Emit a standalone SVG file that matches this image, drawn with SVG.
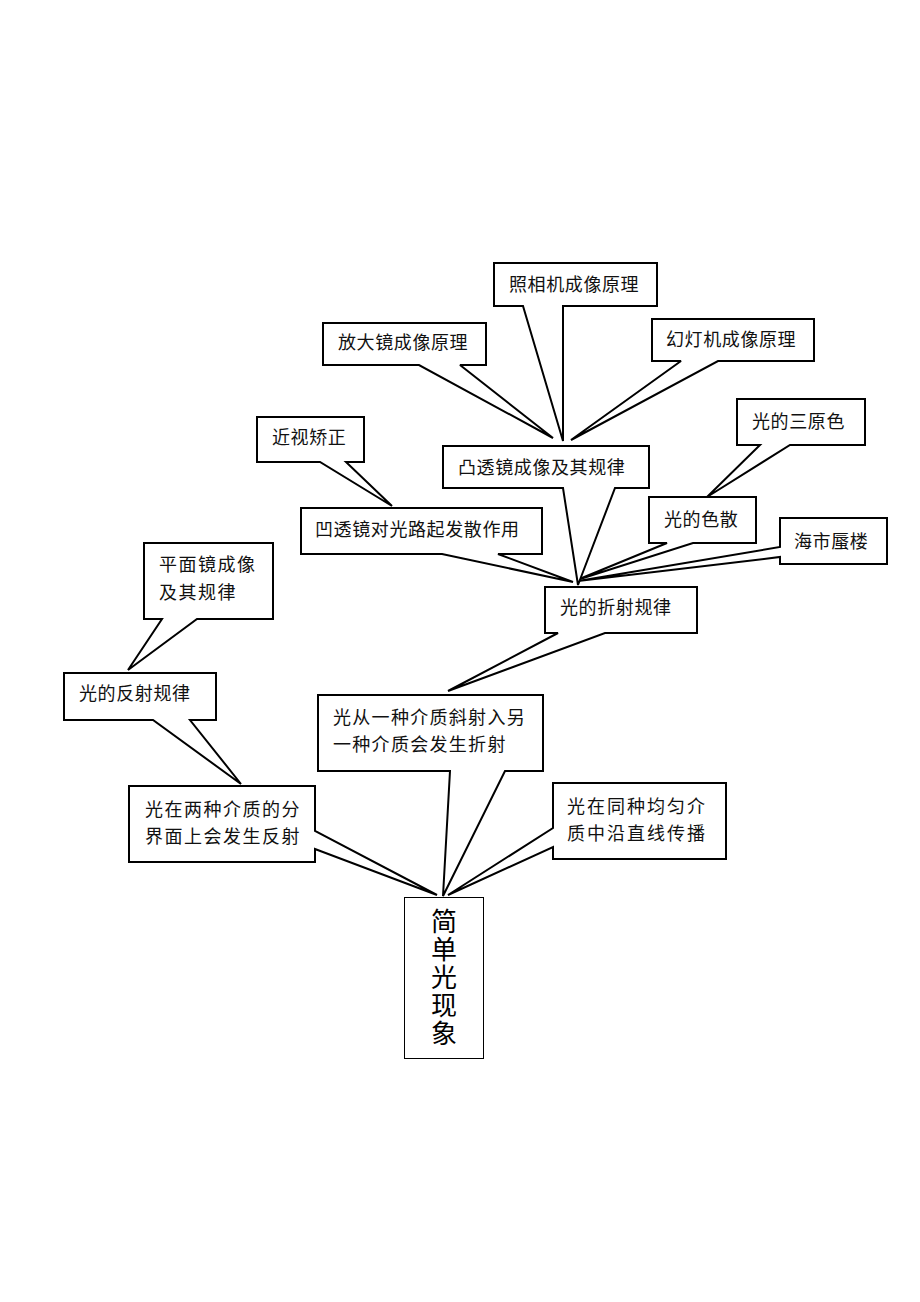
<svg xmlns="http://www.w3.org/2000/svg" width="920" height="1302" viewBox="0 0 920 1302">
<style>
.c{fill:#fff;stroke:#000;stroke-width:2;stroke-linejoin:miter;stroke-miterlimit:3}
.t{font-family:"Noto Sans CJK SC","Noto Sans",sans-serif;font-size:18px;fill:#111;letter-spacing:0.6px}
.w{letter-spacing:1.5px}
.ww{letter-spacing:2px}
.m{font-family:"Noto Sans CJK SC","Noto Sans",sans-serif;font-size:26px;fill:#000;writing-mode:vertical-rl;letter-spacing:2px}
</style>
<rect width="920" height="1302" fill="#fff"/>
<g id="connectors"></g>
<g id="n-zhaoxiang"><path class="c" d="M494 263 H657 V306 H563 L563 441 L523 306 H494 Z"/><text class="t" x="509" y="291">照相机成像原理</text></g>
<g id="n-fangdajing"><path class="c" d="M323 323 H486 V365 H460 L553 438 L419 365 H323 Z"/><text class="t" x="338" y="349">放大镜成像原理</text></g>
<g id="n-huandeng"><path class="c" d="M652 319 H814 V361 H718 L571 440 L681 361 H652 Z"/><text class="t" x="666" y="346">幻灯机成像原理</text></g>
<g id="n-sanyuanse"><path class="c" d="M737 399 H865 V445 H790 L707 497 L760 445 H737 Z"/><text class="t" x="752" y="428">光的三原色</text></g>
<g id="n-sesan"><path class="c" d="M649 497 H756 V543 H693 L577 580 L667 543 H649 Z"/><text class="t" x="664" y="526">光的色散</text></g>
<g id="n-haishi"><path class="c" d="M780 518 H887 V564 H780 V557 L578 581 L780 547 Z"/><text class="t" x="794" y="548">海市蜃楼</text></g>
<g id="n-jinshi"><path class="c" d="M257 417 H364 V462 H346 L392 506 L320 462 H257 Z"/><text class="t" x="272" y="444">近视矫正</text></g>
<g id="n-aotoujing"><path class="c" d="M301 508 H542 V554 H498 L573 582 L442 554 H301 Z"/><text class="t" x="315" y="536">凹透镜对光路起发散作用</text></g>
<g id="n-tutoujing"><path class="c" d="M443 446 H649 V488 H615 L578 585 L563 488 H443 Z"/><text class="t" x="458" y="474">凸透镜成像及其规律</text></g>
<g id="n-zheshe"><path class="c" d="M545 587 H697 V633 H605 L448 691 L558 633 H545 Z"/><text class="t" x="560" y="614">光的折射规律</text></g>
<g id="n-pingmian"><path class="c" d="M144 543 H273 V619 H197 L128 670 L162 619 H144 Z"/><text class="t w" x="159" y="571">平面镜成像</text><text class="t w" x="159" y="599">及其规律</text></g>
<g id="n-fanshe"><path class="c" d="M64 673 H216 V720 H190 L241 784 L153 720 H64 Z"/><text class="t" x="79" y="700">光的反射规律</text></g>
<g id="n-xieshe"><path class="c" d="M318 695 H543 V771 H505 L443 896 L450 771 H318 Z"/><text class="t" x="333" y="724" style="letter-spacing:1.3px">光从一种介质斜射入另</text><text class="t" x="333" y="751" style="letter-spacing:1.3px">一种介质会发生折射</text></g>
<g id="n-fenjie"><path class="c" d="M129 786 H315 V831 L437 895 L315 849 V862 H129 Z"/><text class="t w" x="145" y="816">光在两种介质的分</text><text class="t w" x="145" y="843">界面上会发生反射</text></g>
<g id="n-zhixian"><path class="c" d="M553 783 H726 V859 H553 V847 L448 895 L553 828 Z"/><text class="t ww" x="567" y="813">光在同种均匀介</text><text class="t ww" x="567" y="840">质中沿直线传播</text></g>
<g id="n-main"><rect x="404.5" y="897.5" width="79" height="161" fill="#fff" stroke="#000" stroke-width="1"/>
<text class="m" x="444" y="908">简单光现象</text></g>
</svg>
